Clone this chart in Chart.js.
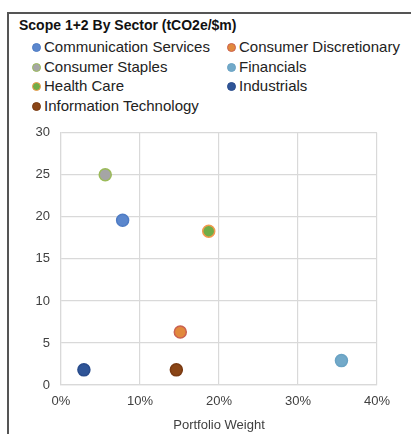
<!DOCTYPE html>
<html>
<head>
<meta charset="utf-8">
<script src="https://cdn.jsdelivr.net/npm/chart.js@4"></script>
<style>
    html, body { margin: 0; padding: 0; background: #fff; }
    body { width: 411px; height: 434px; position: relative; overflow: hidden; font-family: "Liberation Sans", Arial, sans-serif; }
    .frame { position: absolute; left: 7px; top: 12px; right: -4px; bottom: -4px; border-left: 2px solid #555; border-top: 2px solid #555; }
    .title { position: absolute; left: 19px; top: 17px; font-size: 14px; font-weight: bold; color: #111; }
    .legend { position: absolute; left: 32px; top: 38px; display: grid; grid-template-columns: 195px 170px; row-gap: 1px; }
    .legend div { font-size: 15px; color: #222; line-height: 18.5px; white-space: nowrap; }
    .legend span { display: inline-block; width: 9px; height: 9px; border-radius: 50%; margin-right: 3px; vertical-align: 0px; box-sizing: border-box; border: 1.5px solid; }
    #wrap { position: absolute; left: 8px; top: 114px; width: 403px; height: 320px; }
</style>
</head>
<body>
<div class="frame"></div>
<div class="title">Scope 1+2 By Sector (tCO2e/$m)</div>
<div class="legend" id="legend"></div>
<div id="wrap"><canvas id="chart"></canvas></div>
<script>
const sectors = [
    'Communication Services',
    'Consumer Discretionary',
    'Consumer Staples',
    'Financials',
    'Health Care',
    'Industrials',
    'Information Technology'
];
const weights = [0.078, 0.151, 0.056, 0.355, 0.187, 0.029, 0.146];
const intensity = [19.6, 6.3, 25.0, 2.9, 18.3, 1.8, 1.8];
const fillColors = ['#5B87CD', '#E1893C', '#A5A5A5', '#72A9C9', '#70AD47', '#2F5597', '#8A4516'];
const lineColors = ['#4F7CC4', '#CB6150', '#9BBB59', '#6AA3C4', '#F29A4E', '#294C8C', '#7A3A12'];
const yTicks = [0, 5, 10, 15, 20, 25, 30];
const xTicks = [0, 0.1, 0.2, 0.3, 0.4];

// html legend, 2 columns like the original
const legend = document.getElementById('legend');
sectors.forEach(function (name, i) {
    const item = document.createElement('div');
    item.innerHTML = '<span style="background:' + fillColors[i] + ';border-color:' + lineColors[i] + '"></span>' + name;
    legend.appendChild(item);
});

const datasets = sectors.map(function (name, i) {
    return {
        label: name,
        data: [{ x: weights[i], y: intensity[i] }],
        backgroundColor: fillColors[i],
        borderColor: lineColors[i],
        borderWidth: 1.5,
        pointRadius: 6,
        pointHoverRadius: 6
    };
});

new Chart(document.getElementById('chart'), {
    type: 'scatter',
    data: { datasets: datasets },
    options: {
        responsive: true,
        maintainAspectRatio: false,
        animation: false,
        layout: { padding: { left: 8, right: 34, top: 6, bottom: 0 } },
        plugins: {
            legend: { display: false },
            tooltip: { enabled: false }
        },
        scales: {
            x: {
                type: 'linear',
                min: 0,
                max: 0.4,
                afterBuildTicks: function (s) { s.ticks = xTicks.map(v => ({ value: v })); },
                afterFit: function (s) { s.height = 49; },
                grid: { color: '#d9d9d9', lineWidth: 1.2, drawTicks: false },
                border: { color: '#d9d9d9', width: 1.2 },
                ticks: {
                    padding: 9,
                    color: '#404040',
                    font: { family: 'Liberation Sans', size: 13 },
                    callback: v => Math.round(v * 100) + '%'
                },
                title: {
                    display: true,
                    text: 'Portfolio Weight',
                    color: '#404040',
                    font: { family: 'Liberation Sans', size: 13 },
                    padding: { top: 4, bottom: 1 }
                }
            },
            y: {
                min: 0,
                max: 30,
                afterBuildTicks: function (s) { s.ticks = yTicks.map(v => ({ value: v })); },
                afterFit: function (s) { s.width = 45; },
                grid: { color: '#d9d9d9', lineWidth: 1.2, drawTicks: false },
                border: { color: '#d9d9d9', width: 1.2 },
                ticks: {
                    padding: 11,
                    color: '#404040',
                    font: { family: 'Liberation Sans', size: 13 }
                }
            }
        }
    }
});
</script>
</body>
</html>
